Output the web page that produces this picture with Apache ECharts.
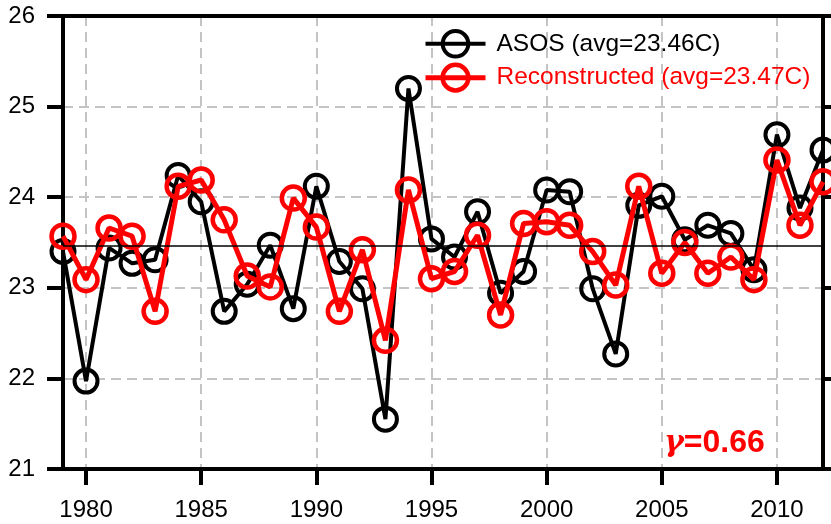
<!DOCTYPE html>
<html>
<head>
<meta charset="utf-8">
<title>ASOS vs Reconstructed</title>
<script src="https://cdn.jsdelivr.net/npm/echarts@6.0.0/dist/echarts.min.js"></script>
<style>
  html, body { margin: 0; padding: 0; background: #fff; }
  #chart { width: 831px; height: 524px; }
</style>
</head>
<body>
<div id="chart"></div>
<script>
// years on the x axis
const years = [1979, 1980, 1981, 1982, 1983, 1984, 1985, 1986, 1987, 1988,
  1989, 1990, 1991, 1992, 1993, 1994, 1995, 1996, 1997, 1998,
  1999, 2000, 2001, 2002, 2003, 2004, 2005, 2006, 2007, 2008,
  2009, 2010, 2011, 2012];

// observed (ASOS) temperature, C
const asos = [23.40, 21.97, 23.44, 23.27, 23.31, 24.24, 23.95, 22.74, 23.04, 23.47,
  22.77, 24.12, 23.29, 22.99, 21.55, 25.20, 23.54, 23.34, 23.84, 22.94,
  23.18, 24.08, 24.06, 22.99, 22.27, 23.91, 24.01, 23.53, 23.69, 23.60,
  23.20, 24.69, 23.88, 24.52];

// reconstructed temperature, C
const recon = [23.57, 23.09, 23.66, 23.57, 22.74, 24.12, 24.19, 23.75, 23.13, 23.01,
  23.99, 23.67, 22.74, 23.42, 22.42, 24.08, 23.10, 23.18, 23.58, 22.70,
  23.71, 23.73, 23.69, 23.40, 23.03, 24.12, 23.16, 23.50, 23.16, 23.34,
  23.09, 24.41, 23.69, 24.17];

const asosAvg = 23.46;
const reconAvg = 23.47;
const corr = 0.66;

const FONT = 'Arial, "Liberation Sans", sans-serif';
const every5 = (idx, val) => Number(val) % 5 === 0;
const gridLine = { show: true, lineStyle: { color: '#c4c4c4', width: 2, type: [10, 6] } };

const asosName = 'ASOS (avg=' + asosAvg.toFixed(2) + 'C)';
const reconName = 'Reconstructed (avg=' + reconAvg.toFixed(2) + 'C)';

const chart = echarts.init(document.getElementById('chart'));

chart.setOption({
  animation: false,
  backgroundColor: '#fff',
  textStyle: { fontFamily: FONT },
  grid: { left: 63, right: 8, top: 16, bottom: 55 },
  legend: {
    orient: 'vertical',
    left: 423,
    top: 29,
    padding: 0,
    itemWidth: 60,
    itemHeight: 32,
    itemGap: 4,
    textStyle: { fontFamily: FONT, fontSize: 24.5, padding: [0, 0, 0, 6] },
    data: [
      {
        name: asosName,
        textStyle: { color: '#000' },
        lineStyle: { width: 4, color: '#000' },
        itemStyle: { borderWidth: 4, borderColor: '#000', color: 'rgba(255,255,255,0)' }
      },
      {
        name: reconName,
        textStyle: { color: '#ff0000' },
        lineStyle: { width: 5, color: '#ff0000' },
        itemStyle: { borderWidth: 4.5, borderColor: '#ff0000', color: 'rgba(255,255,255,0)' }
      }
    ]
  },
  xAxis: [
    {
      type: 'category',
      data: years,
      boundaryGap: false,
      axisLine: { lineStyle: { color: '#000', width: 4 } },
      axisTick: { interval: every5, length: 16, lineStyle: { width: 4, color: '#000' } },
      axisLabel: { interval: every5, margin: 29, fontSize: 24, color: '#000', fontFamily: FONT },
      splitLine: Object.assign({ interval: every5 }, gridLine)
    },
    {
      type: 'category',
      data: years,
      boundaryGap: false,
      position: 'top',
      axisLine: { lineStyle: { color: '#000', width: 4 } },
      axisTick: { show: false },
      axisLabel: { show: false },
      splitLine: { show: false }
    }
  ],
  yAxis: [
    {
      type: 'value',
      min: 21,
      max: 26,
      interval: 1,
      axisLine: { show: true, lineStyle: { color: '#000', width: 4 } },
      axisTick: { show: true, length: 16, lineStyle: { width: 4, color: '#000' } },
      axisLabel: { margin: 28, fontSize: 24, color: '#000', fontFamily: FONT },
      splitLine: gridLine
    },
    {
      type: 'value',
      min: 21,
      max: 26,
      interval: 1,
      position: 'right',
      axisLine: { show: true, lineStyle: { color: '#000', width: 4 } },
      axisTick: { show: true, length: 16, lineStyle: { width: 4, color: '#000' } },
      axisLabel: { show: false },
      splitLine: { show: false }
    }
  ],
  series: [
    {
      name: asosName,
      type: 'line',
      data: asos,
      symbol: 'circle',
      symbolSize: 23,
      showAllSymbol: true,
      lineStyle: { color: '#000', width: 4 },
      itemStyle: { color: 'rgba(255,255,255,0)', borderColor: '#000', borderWidth: 4 },
      markLine: {
        silent: true,
        symbol: 'none',
        label: { show: false },
        lineStyle: { color: '#000', width: 1.5, type: 'solid' },
        data: [{ yAxis: asosAvg }]
      },
      z: 2
    },
    {
      name: reconName,
      type: 'line',
      data: recon,
      symbol: 'circle',
      symbolSize: 23,
      showAllSymbol: true,
      lineStyle: { color: '#ff0000', width: 5 },
      itemStyle: { color: 'rgba(255,255,255,0)', borderColor: '#ff0000', borderWidth: 4.5 },
      z: 3
    }
  ],
  graphic: [
    {
      type: 'text',
      left: 664,
      top: 427,
      style: {
        text: '{g|γ}{n|=' + corr.toFixed(2) + '}',
        rich: {
          g: { font: 'bold italic 30px "DejaVu Serif", serif', fill: '#ff0000' },
          n: { font: 'bold 32px ' + FONT, fill: '#ff0000' }
        }
      },
      z: 10
    }
  ]
});
</script>
</body>
</html>
